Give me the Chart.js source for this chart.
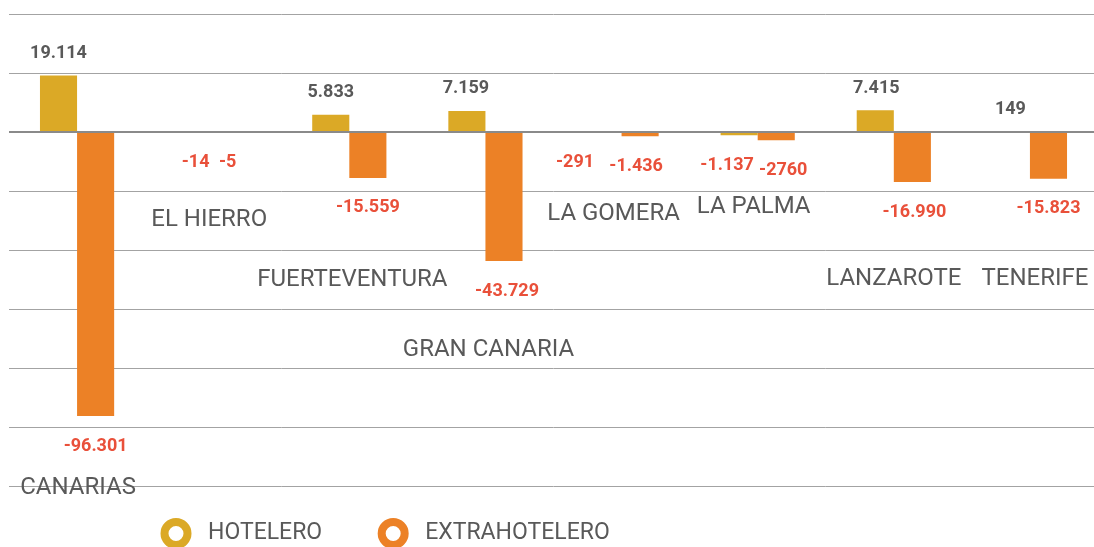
<!DOCTYPE html>
<html>
<head>
<meta charset="utf-8">
<script src="https://cdn.jsdelivr.net/npm/chart.js@4"></script>
<style>
  html, body { margin: 0; padding: 0; background: #fff; overflow: hidden; }
  #wrap { width: 1098px; height: 547px; }
</style>
</head>
<body>
<div id="wrap"><canvas id="chart"></canvas></div>
<script>
// data
const islands = ["CANARIAS", "EL HIERRO", "FUERTEVENTURA", "GRAN CANARIA", "LA GOMERA", "LA PALMA", "LANZAROTE", "TENERIFE"];
const hotelero = [19114, -14, 5833, 7159, -291, -1137, 7415, 149];
const extrahotelero = [-96301, -5, -15559, -43729, -1436, -2760, -16990, -15823];
const hoteleroText = ["19.114", "-14", "5.833", "7.159", "-291", "-1.137", "7.415", "149"];
const extraText = ["-96.301", "-5", "-15.559", "-43.729", "-1.436", "-2760", "-16.990", "-15.823"];
const seriesNames = ["HOTELERO", "EXTRAHOTELERO"];

// where each island name sits, in axis units, plus small sideways nudges (px)
const islandLabelLevel = [-120700, -29800, -50200, -73900, -27800, -25400, -49800, -49800];
const islandNudge = [1, -4, 3, 3, -8, -4, 0, 5];
// sideways nudges of the value labels (px), as in the original
const hoteleroNudge = [0, 1, 0, -1, -28, -12, 1, -1];
const extraNudge = [0, -4, 0, 3, -4, 7, 2, 0];

const colors = ["#DBA926", "#EC8126"];
const textGray = "#595959";
const negRed = "#E9503A";

const overlay = {
  id: "overlay",
  afterDatasetsDraw(chart) {
    const ctx = chart.ctx;
    const xs = chart.scales.x, ys = chart.scales.y;
    const area = chart.chartArea;
    ctx.save();

    // zero line on top of the bars
    const y0 = ys.getPixelForValue(0);
    ctx.strokeStyle = "#8a8a8a";
    ctx.lineWidth = 2;
    ctx.beginPath();
    ctx.moveTo(area.left, y0);
    ctx.lineTo(area.right, y0);
    ctx.stroke();

    // value labels
    ctx.textAlign = "center";
    ctx.textBaseline = "middle";
    ctx.font = "bold 18px Roboto";
    [[hoteleroText, hoteleroNudge], [extraText, extraNudge]].forEach(([texts, nudge], d) => {
      chart.getDatasetMeta(d).data.forEach((bar, i) => {
        const v = chart.data.datasets[d].data[i];
        if (v >= 0) {
          ctx.fillStyle = textGray;
          ctx.fillText(texts[i], bar.x + nudge[i], bar.y - 22);
        } else {
          ctx.fillStyle = negRed;
          ctx.fillText(texts[i], bar.x + nudge[i], bar.y + 30);
        }
      });
    });

    // island names
    ctx.font = "24px Roboto";
    ctx.fillStyle = textGray;
    islands.forEach((name, i) => {
      ctx.fillText(name, xs.getPixelForValue(i) + islandNudge[i], ys.getPixelForValue(islandLabelLevel[i]));
    });

    // legend
    let lx = 160;
    const ly = 533.5;
    ctx.textAlign = "left";
    ctx.font = "23px Roboto";
    chart.data.datasets.forEach((ds) => {
      ctx.strokeStyle = ds.backgroundColor;
      ctx.lineWidth = 8;
      ctx.beginPath();
      ctx.arc(lx + 16, ly, 11.5, 0, Math.PI * 2);
      ctx.stroke();
      ctx.fillStyle = textGray;
      ctx.fillText(ds.label, lx + 48, ly);
      lx += 48 + ctx.measureText(ds.label).width + 55;
    });

    ctx.restore();
  }
};

new Chart(document.querySelector("#chart"), {
  type: "bar",
  data: {
    labels: islands,
    datasets: [
      { label: seriesNames[0], data: hotelero, backgroundColor: colors[0] },
      { label: seriesNames[1], data: extrahotelero, backgroundColor: colors[1] }
    ]
  },
  options: {
    responsive: true,
    maintainAspectRatio: false,
    animation: false,
    layout: { padding: { left: 9, top: 14, right: 0, bottom: 61 } },
    datasets: { bar: { categoryPercentage: 0.545, barPercentage: 1 } },
    plugins: { legend: { display: false }, tooltip: { enabled: false } },
    scales: {
      x: { display: false },
      y: {
        min: -120000,
        max: 40000,
        ticks: { display: false, stepSize: 20000 },
        grid: { color: "#a3a3a3", lineWidth: 1, drawTicks: false },
        border: { display: false },
        afterFit: (s) => { s.width = 0; }
      }
    }
  },
  plugins: [overlay]
});
</script>
</body>
</html>
